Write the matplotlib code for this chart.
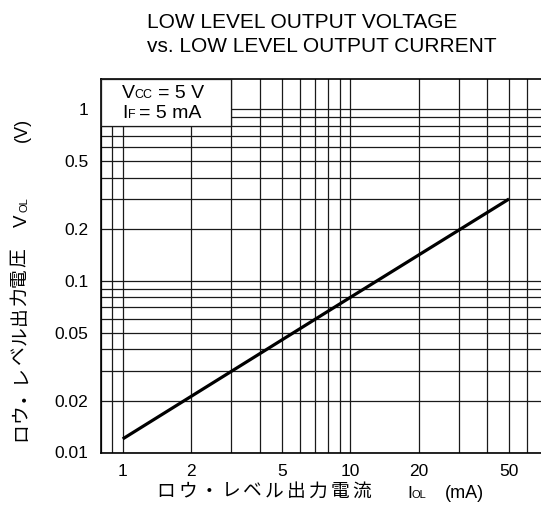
import matplotlib
matplotlib.use('Agg')
import matplotlib.pyplot as plt
from matplotlib.ticker import FixedLocator, LogLocator, NullFormatter
from matplotlib.patches import Rectangle

plt.rcParams['font.family'] = ['Liberation Sans', 'Noto Sans CJK JP']

# data
i_ol = [1, 10, 50]              # mA
v_ol = [0.012, 0.08, 0.3]       # V
x_ticks = [1, 2, 5, 10, 20, 50]
x_tick_labels = ['1', '2', '5', '10', '20', '50']
y_ticks = [0.01, 0.02, 0.05, 0.1, 0.2, 0.5, 1]
y_tick_labels = ['0.01', '0.02', '0.05', '0.1', '0.2', '0.5', '1']
title_lines = ['LOW LEVEL OUTPUT VOLTAGE', 'vs. LOW LEVEL OUTPUT CURRENT']
x_label_jp = 'ロウ・レベル出力電流'
y_label_jp = 'ロウ・レベル出力電圧'

W, H = 541, 522


def fx(px):
    return px / W


def fy(py):
    return 1 - py / H


fig = plt.figure(figsize=(W / 100, H / 100), dpi=100)
ax = fig.add_axes([fx(100.7), fy(452.5), fx(542.3) - fx(100.7), fy(79) - fy(452.5)])

ax.set_xscale('log')
ax.set_yscale('log')
ax.set_xlim(0.8, 70)
ax.set_ylim(0.01, 1.5)

ax.plot(i_ol, v_ol, color='black', lw=2.3, zorder=5, solid_capstyle='butt')

ax.xaxis.set_major_locator(FixedLocator(x_ticks))
ax.set_xticklabels(x_tick_labels)
ax.yaxis.set_major_locator(FixedLocator(y_ticks))
ax.set_yticklabels(y_tick_labels)
for axis in (ax.xaxis, ax.yaxis):
    axis.set_minor_locator(LogLocator(base=10, subs=range(1, 10), numticks=20))
    axis.set_minor_formatter(NullFormatter())
ax.tick_params(which='both', length=0, labelsize=12.5, colors='black')
ax.tick_params(axis='x', pad=8)
ax.tick_params(axis='y', pad=9)
ax.grid(which='both', color='#1a1a1a', lw=0.9)

for s in ax.spines.values():
    s.set_linewidth(1.2)
ax.spines['right'].set_visible(False)

# condition box in the upper left corner
ax.add_patch(Rectangle((0.8, 0.8), 3 - 0.8, 1.5 - 0.8, facecolor='white',
                       edgecolor='#1a1a1a', lw=0.9, zorder=3))

fs_box = 14
fig.text(fx(121.5), fy(98.3), 'V', fontsize=fs_box, va='baseline')
fig.text(fx(134.5), fy(98.3), 'CC', fontsize=9, va='baseline')
fig.text(fx(158), fy(98.3), '= 5 V', fontsize=fs_box, va='baseline')
fig.text(fx(122.5), fy(118.3), 'I', fontsize=fs_box, va='baseline')
fig.text(fx(128), fy(118.3), 'F', fontsize=9, va='baseline')
fig.text(fx(139), fy(118.3), '= 5 mA', fontsize=fs_box, va='baseline')

# title
fig.text(fx(147), fy(23), title_lines[0], fontsize=15, va='center', ha='left')
fig.text(fx(147), fy(46), title_lines[1], fontsize=15, va='center', ha='left')

# x label, characters spaced like the original
for k, ch in enumerate(x_label_jp):
    fig.text(fx(166 + k * 21.7), fy(492), ch, fontsize=13.5,
             ha='center', va='center')
fig.text(fx(407.5), fy(497.5), 'I', fontsize=12.5, va='baseline')
fig.text(fx(412), fy(497.5), 'OL', fontsize=8, va='baseline')
fig.text(fx(445), fy(497.5), '(mA)', fontsize=13, va='baseline')

# y label, rotated
for k, ch in enumerate(y_label_jp):
    fig.text(fx(20.5), fy(431.7 - k * 19.3), ch, fontsize=13.5, rotation=90,
             ha='center', va='center', rotation_mode='anchor')
fig.text(fx(27), fy(227), 'V', fontsize=13.5, rotation=90,
         ha='left', va='baseline', rotation_mode='anchor')
fig.text(fx(27), fy(212.5), 'OL', fontsize=8, rotation=90,
         ha='left', va='baseline', rotation_mode='anchor')
fig.text(fx(27), fy(142), '(V)', fontsize=13, rotation=90,
         ha='left', va='baseline', rotation_mode='anchor')

fig.savefig('out.png', dpi=100)
